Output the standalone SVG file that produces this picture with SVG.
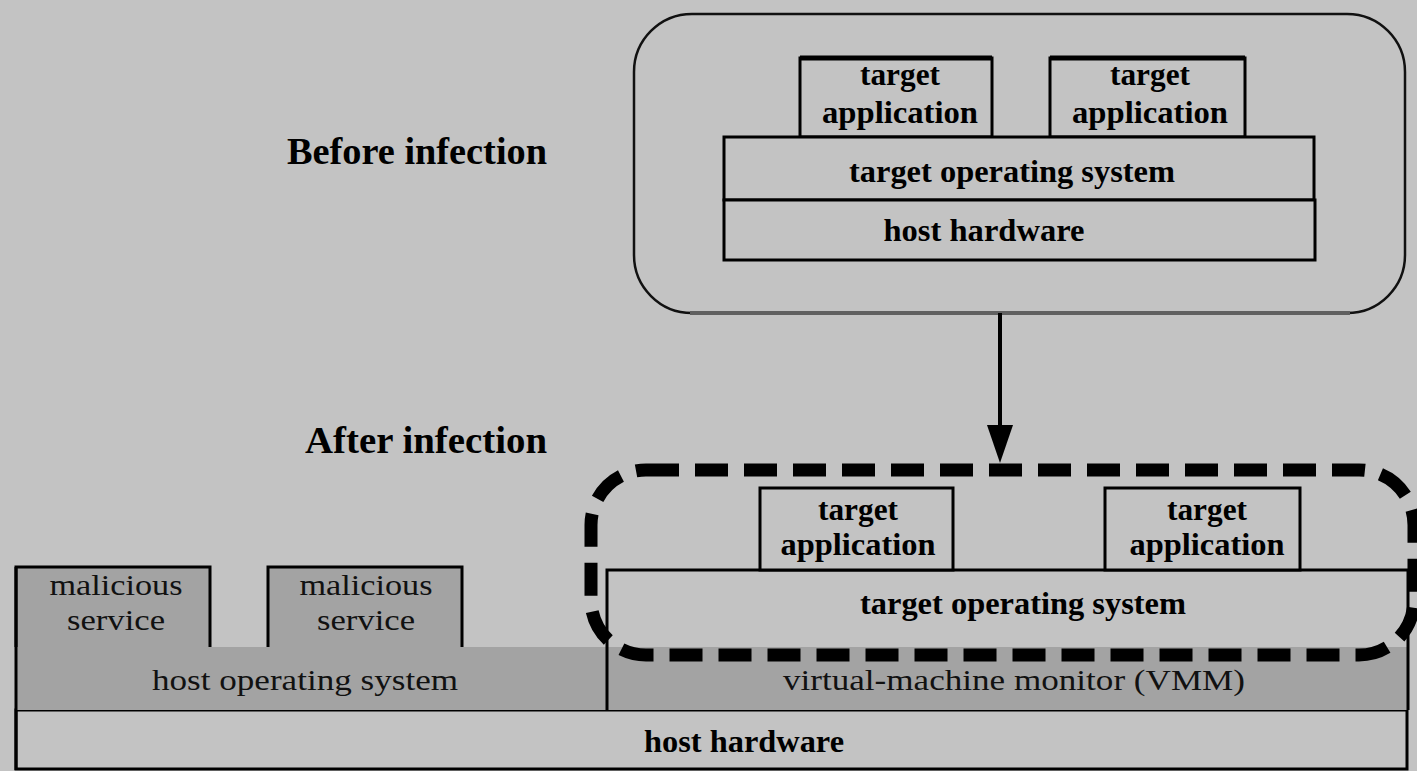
<svg xmlns="http://www.w3.org/2000/svg" width="1417" height="771" viewBox="0 0 1417 771">
<defs>
<style>
.bg{fill:#c3c3c3}
.box{fill:#c3c3c3;stroke:#000;stroke-width:3}
.shade{fill:#a3a3a3}
.ln{stroke:#000;stroke-width:3;fill:none}
.tb{font-family:"Liberation Serif","Times New Roman",serif;font-weight:bold;fill:#000;text-anchor:middle}
.tr{font-family:"Liberation Serif","Times New Roman",serif;fill:#111;text-anchor:middle}
.lbl{font-size:38px}
.t30{font-size:32px}
.t28{font-size:29px}
</style>
</defs>
<rect class="bg" x="0" y="0" width="1417" height="771"/>

<g id="label-before"><text class="tb lbl" x="417" y="164" textLength="260" lengthAdjust="spacingAndGlyphs">Before infection</text></g>
<g id="label-after"><text class="tb lbl" x="426" y="453" textLength="242" lengthAdjust="spacingAndGlyphs">After infection</text></g>

<g id="before-system">
<path d="M692,14 H1347 A58,58 0 0 1 1405,72 V255 A58,58 0 0 1 1347,313 H692 A58,58 0 0 1 634,255 V72 A58,58 0 0 1 692,14 Z" fill="none" stroke="#111" stroke-width="2.5"/>
<line x1="690" y1="313" x2="1350" y2="313" stroke="#606060" stroke-width="4"/>
</g>
<g id="before-app1">
<rect class="box" x="800" y="58" width="192" height="79"/>
<line x1="800" y1="58" x2="992" y2="58" stroke="#000" stroke-width="5"/>
<text class="tb t30" x="900" y="85" textLength="80" lengthAdjust="spacingAndGlyphs">target</text>
<text class="tb t30" x="900" y="123" textLength="156" lengthAdjust="spacingAndGlyphs">application</text>
</g>
<g id="before-app2">
<rect class="box" x="1050" y="58" width="195" height="79"/>
<line x1="1050" y1="58" x2="1245" y2="58" stroke="#000" stroke-width="5"/>
<text class="tb t30" x="1150" y="85" textLength="80" lengthAdjust="spacingAndGlyphs">target</text>
<text class="tb t30" x="1150" y="123" textLength="156" lengthAdjust="spacingAndGlyphs">application</text>
</g>
<g id="before-os">
<rect class="box" x="724" y="137" width="590" height="63"/>
<text class="tb t30" x="1012" y="182" textLength="326" lengthAdjust="spacingAndGlyphs">target operating system</text>
</g>
<g id="before-hw">
<rect class="box" x="724" y="200" width="591" height="60"/>
<text class="tb t30" x="984" y="241" textLength="201" lengthAdjust="spacingAndGlyphs">host hardware</text>
</g>

<g id="connectors">
<line x1="1000" y1="313" x2="1000" y2="430" stroke="#000" stroke-width="4"/>
<polygon points="987,425 1013,425 1000,463" fill="#000"/>
</g>

<g id="host-hw">
<rect class="box" x="16" y="710" width="1391" height="59"/>
<text class="tb t30" x="744" y="752" textLength="200" lengthAdjust="spacingAndGlyphs">host hardware</text>
</g>
<g id="host-os">
<rect class="shade" x="16" y="647" width="591" height="63"/>
<text class="tr t28" x="305" y="690" textLength="306" lengthAdjust="spacingAndGlyphs">host operating system</text>
</g>
<g id="vmm">
<rect class="shade" x="607" y="647" width="800" height="63"/>
<text class="tr t28" x="1014" y="690" textLength="462" lengthAdjust="spacingAndGlyphs">virtual-machine monitor (VMM)</text>
</g>
<g id="malicious1">
<rect class="shade" x="16" y="567" width="194" height="80"/>
<path class="ln" d="M16,647 V567 H210 V647"/>
<text class="tr t28" x="116" y="595" textLength="133" lengthAdjust="spacingAndGlyphs">malicious</text>
<text class="tr t28" x="116" y="630" textLength="98" lengthAdjust="spacingAndGlyphs">service</text>
</g>
<g id="malicious2">
<rect class="shade" x="268" y="567" width="194" height="80"/>
<path class="ln" d="M268,647 V567 H462 V647"/>
<text class="tr t28" x="366" y="595" textLength="133" lengthAdjust="spacingAndGlyphs">malicious</text>
<text class="tr t28" x="366" y="630" textLength="98" lengthAdjust="spacingAndGlyphs">service</text>
</g>
<line class="ln" x1="16" y1="567" x2="16" y2="770"/>

<g id="after-os">
<rect class="bg" x="607" y="570" width="801" height="77"/>
<path class="ln" d="M607,710 V570 H1408 V710"/>
<text class="tb t30" x="1023" y="614" textLength="326" lengthAdjust="spacingAndGlyphs">target operating system</text>
</g>
<g id="after-app1">
<rect class="box" x="760" y="488" width="193" height="82"/>
<text class="tb t30" x="858" y="520" textLength="80" lengthAdjust="spacingAndGlyphs">target</text>
<text class="tb t30" x="858" y="555" textLength="155" lengthAdjust="spacingAndGlyphs">application</text>
</g>
<g id="after-app2">
<rect class="box" x="1105" y="488" width="195" height="82"/>
<text class="tb t30" x="1207" y="520" textLength="80" lengthAdjust="spacingAndGlyphs">target</text>
<text class="tb t30" x="1207" y="555" textLength="155" lengthAdjust="spacingAndGlyphs">application</text>
</g>
<g id="after-system">
<rect x="591" y="470" width="823" height="185" rx="55" ry="55" fill="none" stroke="#000" stroke-width="13" stroke-dasharray="33 16"/>
</g>
</svg>
